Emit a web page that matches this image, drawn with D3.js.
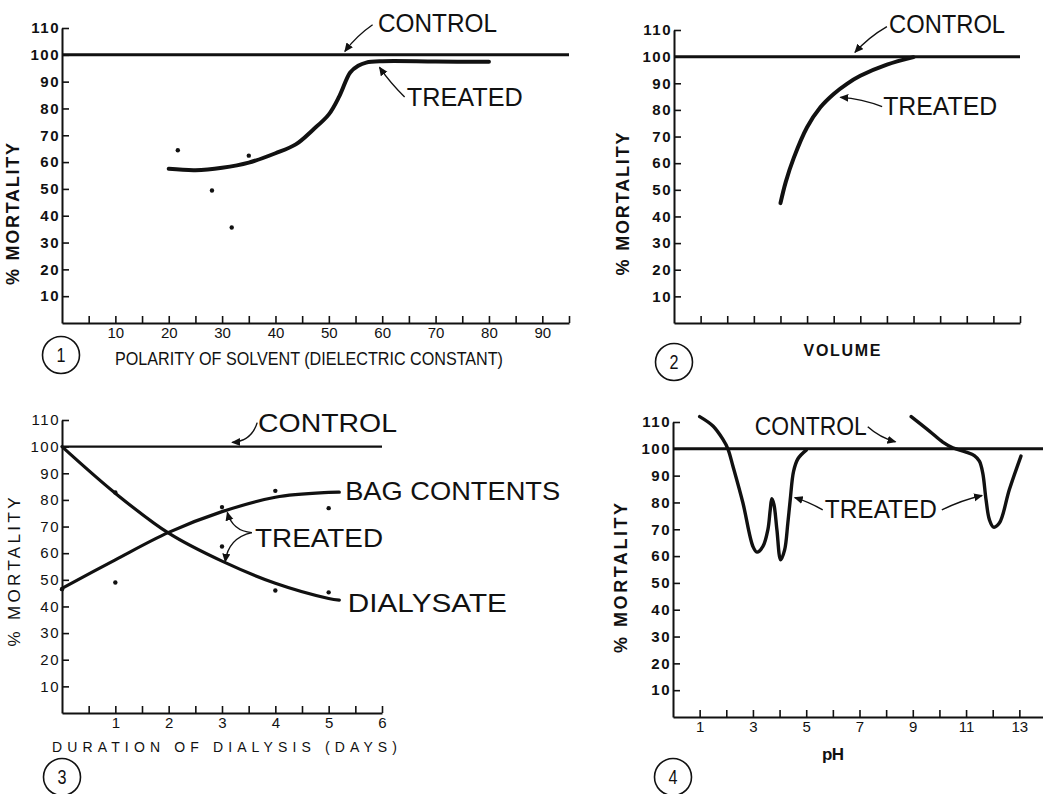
<!DOCTYPE html>
<html>
<head>
<meta charset="utf-8">
<script src="https://cdn.jsdelivr.net/npm/d3@7"></script>
<style>
  body { margin: 0; background: #fff; }
  text { font-family: "Liberation Sans", Arial, sans-serif; fill: #111; }
</style>
</head>
<body>
<div id="chart"></div>
<script>
// shared y axis
var yTicks = [10, 20, 30, 40, 50, 60, 70, 80, 90, 100, 110];
var controlLevel = 100;

// Fig 1 - polarity of solvent
var polarityTicks = [5, 10, 15, 20, 25, 30, 35, 40, 45, 50, 55, 60, 65, 70, 75, 80, 85, 90, 95];
var polarityLabels = [10, 20, 30, 40, 50, 60, 70, 80, 90];
var polarityFitX = [20, 25, 30, 35, 40, 43.8, 47, 50, 52, 54, 55.5, 57, 60, 70, 80];
var polarityFitY = [57.5, 57, 57.9, 59.8, 63.3, 66.6, 72, 77.8, 84.7, 93.4, 95.9, 97.1, 97.6, 97.5, 97.4];
var polarityDotX = [21.7, 28.1, 31.8, 35];
var polarityDotY = [64.4, 49.4, 35.6, 62.4];

// Fig 2 - volume
var volumeTicks = [1, 2, 3, 4, 5, 6, 7, 8, 9, 10, 11, 12, 13];
var volumeFitX = [4, 4.2, 4.5, 5, 5.5, 6, 6.5, 7, 8, 9];
var volumeFitY = [45, 53, 62, 73.5, 81, 86, 89.8, 92.8, 97, 99.8];

// Fig 3 - duration of dialysis
var daysTicks = [0.5, 1, 1.5, 2, 2.5, 3, 3.5, 4, 4.5, 5, 5.5, 6];
var daysLabels = [1, 2, 3, 4, 5, 6];
var dialysateX = [0, 1, 2, 3, 4, 5, 5.2];
var dialysateY = [100, 82.5, 67.5, 57, 48.7, 43, 42.4];
var bagX = [0, 1, 2, 3, 4, 5, 5.2];
var bagY = [46.8, 57.5, 67.8, 75.6, 81, 82.8, 82.9];
var daysDotX = [0, 1, 1, 3, 3, 4, 4, 5, 5];
var daysDotY = [46.5, 82.8, 49, 77.3, 62.5, 83.4, 46, 76.9, 45.3];

// Fig 4 - pH
var phTicks = [1, 2, 3, 4, 5, 6, 7, 8, 9, 10, 11, 12, 13];
var phLabels = [1, 3, 5, 7, 9, 11, 13];
var acidX = [1.0, 1.5, 1.875, 2.06, 2.25, 2.625, 3.0, 3.15, 3.375, 3.56, 3.65, 3.71, 3.79, 3.9, 4.04, 4.19, 4.31, 4.4, 4.525, 4.69, 5.0];
var acidY = [112, 108.5, 103.5, 100, 93.5, 79.8, 63.6, 61.5, 63.6, 69.8, 77.3, 81.4, 79.2, 69.8, 58.6, 62.3, 72.3, 81, 91.6, 96.3, 99.5];
var alkaliX = [8.94, 9.625, 10.125, 10.5, 11.0, 11.31, 11.5, 11.625, 11.75, 11.875, 12.03, 12.25, 12.625, 13.06];
var alkaliY = [112, 106.6, 102.5, 100.4, 98.8, 97.5, 95.4, 91, 81, 73.6, 70.8, 72.3, 84.8, 97.3];

function zip(xs, ys) {
  return xs.map(function (x, i) { return {x: x, y: ys[i]}; });
}

var width = 1043, height = 794;
var svg = d3.select("#chart").append("svg")
  .attr("width", width)
  .attr("height", height);

svg.append("defs").append("marker")
  .attr("id", "head")
  .attr("markerUnits", "userSpaceOnUse")
  .attr("markerWidth", 10).attr("markerHeight", 10)
  .attr("refX", 8).attr("refY", 4)
  .attr("orient", "auto")
  .append("path")
  .attr("d", "M0,0 L9,4 L0,8 Z")
  .attr("fill", "#111");

function drawPanel(p) {
  var g = svg.append("g");
  var x = d3.scaleLinear().domain(p.xDomain).range([p.left, p.right]);
  var y = d3.scaleLinear().domain([0, 110]).range([p.bottom, p.top]);

  // y axis (ticks point inward)
  var ya = g.append("g")
    .attr("transform", "translate(" + p.left + ",0)")
    .call(d3.axisLeft(y).tickValues(yTicks).tickSizeInner(-7).tickSizeOuter(0).tickPadding(2));
  ya.select(".domain").attr("stroke", "#111").attr("stroke-width", 2);
  ya.selectAll(".tick line").attr("stroke", "#111").attr("stroke-width", 1.6);
  ya.selectAll("text")
    .attr("font-family", "Liberation Sans, Arial, sans-serif")
    .attr("font-size", 15).attr("font-weight", p.boldLabels ? "bold" : "normal")
    .attr("letter-spacing", 1.5).attr("fill", "#111");

  // x axis
  var labels = p.xLabels || [];
  var xa = g.append("g")
    .attr("transform", "translate(0," + p.bottom + ")")
    .call(d3.axisBottom(x).tickValues(p.xTicks).tickSizeInner(-7).tickSizeOuter(0).tickPadding(4)
      .tickFormat(function (d) { return labels.indexOf(d) >= 0 ? d : ""; }));
  xa.select(".domain").attr("stroke", "#111").attr("stroke-width", 2);
  xa.selectAll(".tick line").attr("stroke", "#111").attr("stroke-width", 1.6);
  xa.selectAll("text")
    .attr("font-family", "Liberation Sans, Arial, sans-serif")
    .attr("font-size", 15).attr("fill", "#111");

  // axis titles
  g.append("text")
    .attr("transform", "translate(" + p.yTitle[0] + "," + p.yTitle[1] + ") rotate(-90)")
    .attr("text-anchor", "middle")
    .attr("font-size", p.yTitle[2])
    .attr("font-weight", p.boldLabels ? "bold" : "normal")
    .attr("textLength", p.yTitle[3])
    .attr("lengthAdjust", "spacing")
    .text("% MORTALITY");

  if (p.xTitle) {
    g.append("text")
      .attr("x", p.xTitle.x).attr("y", p.xTitle.y)
      .attr("text-anchor", p.xTitle.anchor || "start")
      .attr("font-size", p.xTitle.size)
      .attr("font-weight", p.xTitle.bold ? "bold" : "normal")
      .attr("textLength", p.xTitle.len)
      .attr("lengthAdjust", p.xTitle.adjust || "spacingAndGlyphs")
      .text(p.xTitle.text);
  }

  // figure number
  g.append("circle")
    .attr("cx", p.fig[0]).attr("cy", p.fig[1]).attr("r", 18.5)
    .attr("fill", "none").attr("stroke", "#111").attr("stroke-width", 1.6);
  g.append("text")
    .attr("x", p.fig[0]).attr("y", p.fig[1] + 7)
    .attr("text-anchor", "middle")
    .attr("font-size", 20)
    .attr("textLength", 9).attr("lengthAdjust", "spacingAndGlyphs")
    .text(p.fig[2]);

  // control line
  var line = d3.line()
    .x(function (d) { return x(d.x); })
    .y(function (d) { return y(d.y); });
  g.append("path")
    .datum([{x: p.xDomain[0], y: controlLevel}, {x: p.controlEnd, y: controlLevel}])
    .attr("d", line)
    .attr("fill", "none").attr("stroke", "#111").attr("stroke-width", p.controlWidth);

  // treated curves
  var smooth = d3.line()
    .curve(d3.curveCatmullRom.alpha(0.5))
    .x(function (d) { return x(d.x); })
    .y(function (d) { return y(d.y); });
  p.curves.forEach(function (c) {
    g.append("path")
      .datum(c)
      .attr("d", smooth)
      .attr("fill", "none").attr("stroke", "#111")
      .attr("stroke-width", p.curveWidth)
      .attr("stroke-linecap", "round").attr("stroke-linejoin", "round");
  });

  // measured points
  g.selectAll("circle.dot")
    .data(p.dots || [])
    .enter().append("circle")
    .attr("class", "dot")
    .attr("cx", function (d) { return x(d.x); })
    .attr("cy", function (d) { return y(d.y); })
    .attr("r", 2.2)
    .attr("fill", "#111");

  // annotations
  p.notes.forEach(function (n) {
    g.append("text")
      .attr("x", x(n.x)).attr("y", y(n.y))
      .attr("font-size", n.size || 25)
      .attr("textLength", n.len)
      .attr("lengthAdjust", "spacingAndGlyphs")
      .text(n.text);
  });
  (p.arrows || []).forEach(function (a) {
    var x1 = x(a.from[0]), y1 = y(a.from[1]), x2 = x(a.to[0]), y2 = y(a.to[1]);
    var mx = (x1 + x2) / 2, my = (y1 + y2) / 2;
    var dx = x2 - x1, dy = y2 - y1;
    var cx = mx - dy * a.bend, cy = my + dx * a.bend;
    g.append("path")
      .attr("d", "M" + x1 + "," + y1 + " Q" + cx + "," + cy + " " + x2 + "," + y2)
      .attr("fill", "none").attr("stroke", "#111").attr("stroke-width", 1.4)
      .attr("marker-end", "url(#head)");
  });
}

drawPanel({
  xDomain: [0, 95], left: 62, right: 569, top: 28, bottom: 323,
  xTicks: polarityTicks, xLabels: polarityLabels, controlEnd: 95,
  controlWidth: 3, curveWidth: 4, boldLabels: true,
  yTitle: [19, 214, 18, 142],
  xTitle: {text: "POLARITY OF SOLVENT (DIELECTRIC CONSTANT)", x: 115, y: 365, size: 19, len: 388},
  fig: [61, 355, "1"],
  curves: [zip(polarityFitX, polarityFitY)],
  dots: zip(polarityDotX, polarityDotY),
  notes: [
    {text: "CONTROL", x: 59.2, y: 108.6, len: 119},
    {text: "TREATED", x: 64.6, y: 81, len: 116}
  ],
  arrows: [
    {from: [58.2, 111.2], to: [53, 101.3], bend: 0.08},
    {from: [64.2, 84.3], to: [59.5, 95.3], bend: -0.05}
  ]
});

drawPanel({
  xDomain: [0, 13], left: 674, right: 1020, top: 30, bottom: 323,
  xTicks: volumeTicks, xLabels: [], controlEnd: 13,
  controlWidth: 3, curveWidth: 4, boldLabels: true,
  yTitle: [629, 204, 18, 143],
  xTitle: {text: "VOLUME", x: 842, y: 356, size: 16, len: 77, anchor: "middle", bold: true, adjust: "spacing"},
  fig: [674, 362, "2"],
  curves: [zip(volumeFitX, volumeFitY)],
  dots: [],
  notes: [
    {text: "CONTROL", x: 8.08, y: 109, len: 116},
    {text: "TREATED", x: 7.86, y: 78.2, len: 114}
  ],
  arrows: [
    {from: [8.0, 111.3], to: [6.8, 101.6], bend: 0.08},
    {from: [7.82, 81.2], to: [6.25, 84.7], bend: 0.08}
  ]
});

drawPanel({
  xDomain: [0, 6], left: 62, right: 382, top: 420, bottom: 713,
  xTicks: daysTicks, xLabels: daysLabels, controlEnd: 6,
  controlWidth: 2.4, curveWidth: 3.2, boldLabels: false,
  yTitle: [20, 572, 17, 149],
  xTitle: {text: "DURATION OF DIALYSIS (DAYS)", x: 52, y: 752, size: 14, len: 345, adjust: "spacing"},
  fig: [62, 777, "3"],
  curves: [zip(dialysateX, dialysateY), zip(bagX, bagY)],
  dots: zip(daysDotX, daysDotY),
  notes: [
    {text: "CONTROL", x: 3.675, y: 105.6, len: 139},
    {text: "BAG CONTENTS", x: 5.31, y: 80, len: 215},
    {text: "DIALYSATE", x: 5.36, y: 38, len: 159},
    {text: "TREATED", x: 3.62, y: 62.4, len: 128}
  ],
  arrows: [
    {from: [3.66, 109], to: [3.19, 101.6], bend: -0.35},
    {from: [3.56, 67.7], to: [3.1, 75.3], bend: -0.35},
    {from: [3.56, 67.7], to: [3.06, 56.8], bend: 0.35}
  ]
});

drawPanel({
  xDomain: [0, 14], left: 673, right: 1046, top: 422, bottom: 717,
  xTicks: phTicks, xLabels: phLabels, controlEnd: 14,
  controlWidth: 3, curveWidth: 3.4, boldLabels: true,
  yTitle: [627, 578, 18, 150],
  xTitle: {text: "pH", x: 833, y: 760, size: 17, len: 22, anchor: "middle", bold: true, adjust: "spacing"},
  fig: [673, 777, "4"],
  curves: [zip(acidX, acidY), zip(alkaliX, alkaliY)],
  dots: [],
  notes: [
    {text: "CONTROL", x: 3.07, y: 105.2, len: 112},
    {text: "TREATED", x: 5.7, y: 74.3, len: 112}
  ],
  arrows: [
    {from: [7.31, 108.2], to: [8.35, 102.6], bend: 0.12},
    {from: [5.62, 77.2], to: [4.57, 81.8], bend: 0.06},
    {from: [10.09, 77.2], to: [11.6, 82.6], bend: -0.06}
  ]
});
</script>
</body>
</html>
